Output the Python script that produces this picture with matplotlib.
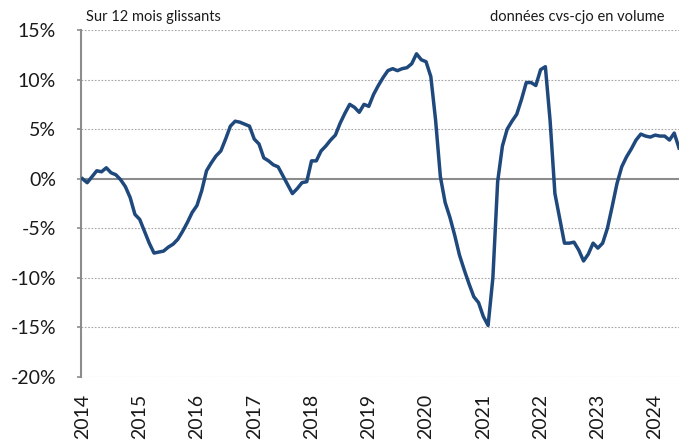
import matplotlib
matplotlib.use("Agg")
import matplotlib.pyplot as plt
import numpy as np

plt.rcParams['font.family'] = ['Lato', 'DejaVu Sans']

# glissement sur 12 mois, mensuel, janv. 2014 -> juin 2024 (%)
values = [
    0.0, -0.4, 0.2, 0.8, 0.7, 1.1, 0.6, 0.4, -0.1, -0.8, -1.9, -3.6,      # 2014
    -4.1, -5.3, -6.5, -7.5, -7.4, -7.3, -6.9, -6.6, -6.1, -5.3, -4.4, -3.4,  # 2015
    -2.7, -1.2, 0.8, 1.6, 2.3, 2.8, 4.0, 5.3, 5.8, 5.7, 5.5, 5.3,         # 2016
    4.0, 3.5, 2.1, 1.8, 1.4, 1.2, 0.3, -0.6, -1.5, -1.0, -0.4, -0.3,      # 2017
    1.8, 1.8, 2.8, 3.3, 3.9, 4.4, 5.6, 6.6, 7.5, 7.2, 6.7, 7.5,           # 2018
    7.3, 8.5, 9.4, 10.2, 10.9, 11.1, 10.9, 11.1, 11.2, 11.6, 12.6, 12.0,  # 2019
    11.8, 10.3, 5.9, 0.2, -2.4, -3.9, -5.7, -7.7, -9.2, -10.6, -11.9, -12.5,  # 2020
    -13.9, -14.8, -10.0, -0.3, 3.3, 5.0, 5.8, 6.5, 8.0, 9.7, 9.7, 9.4,    # 2021
    11.0, 11.3, 5.8, -1.5, -4.0, -6.5, -6.5, -6.4, -7.2, -8.3, -7.6, -6.5,  # 2022
    -7.0, -6.5, -5.0, -2.8, -0.5, 1.2, 2.2, 3.0, 3.9, 4.5, 4.3, 4.2,      # 2023
    4.4, 4.3, 4.3, 3.9, 4.6, 3.1,                                         # 2024
]
years = list(range(2014, 2025))
yticks = [-20, -15, -10, -5, 0, 5, 10, 15]

months = np.arange(len(values))

fig = plt.figure(figsize=(6.79, 4.41), dpi=100)
ax = fig.add_axes([81 / 679, 64 / 441, 1 - 81 / 679, 347 / 441])

ax.plot(months, values, color='#1F497D', lw=2.5, solid_joinstyle='round', zorder=3)

ax.set_ylim(-20, 15)
ax.set_xlim(-0.3, 125.0)
ax.set_yticks(yticks)
ax.set_yticklabels([f"{t}%" for t in yticks])
ax.set_xticks([12 * (y - 2014) for y in years])
ax.set_xticklabels([str(y) for y in years], rotation=90)

for t in yticks:
    if t != 0:
        ax.axhline(t, color='#a6a6a6', lw=0.8, ls=(0, (1.5, 1.5)), zorder=1)
ax.axhline(0, color='#8c8c8c', lw=1.5, zorder=2)

for s in ['top', 'right', 'bottom']:
    ax.spines[s].set_visible(False)
ax.spines['left'].set_color('#8c8c8c')
ax.spines['left'].set_linewidth(1.5)

ax.tick_params(axis='y', length=3, width=1.2, color='#8c8c8c', pad=15,
               labelsize=14, labelcolor='#1a1a1a')
ax.tick_params(axis='x', length=0, pad=12, labelsize=14, labelcolor='#1a1a1a')

fig.text(86 / 679, 1 - 17 / 441, "Sur 12 mois glissants", fontsize=10.5,
         ha='left', va='center', color='#1a1a1a')
fig.text(664 / 679, 1 - 17 / 441, "données cvs-cjo en volume", fontsize=10.5,
         ha='right', va='center', color='#1a1a1a')

fig.savefig('out.png', dpi=100)
